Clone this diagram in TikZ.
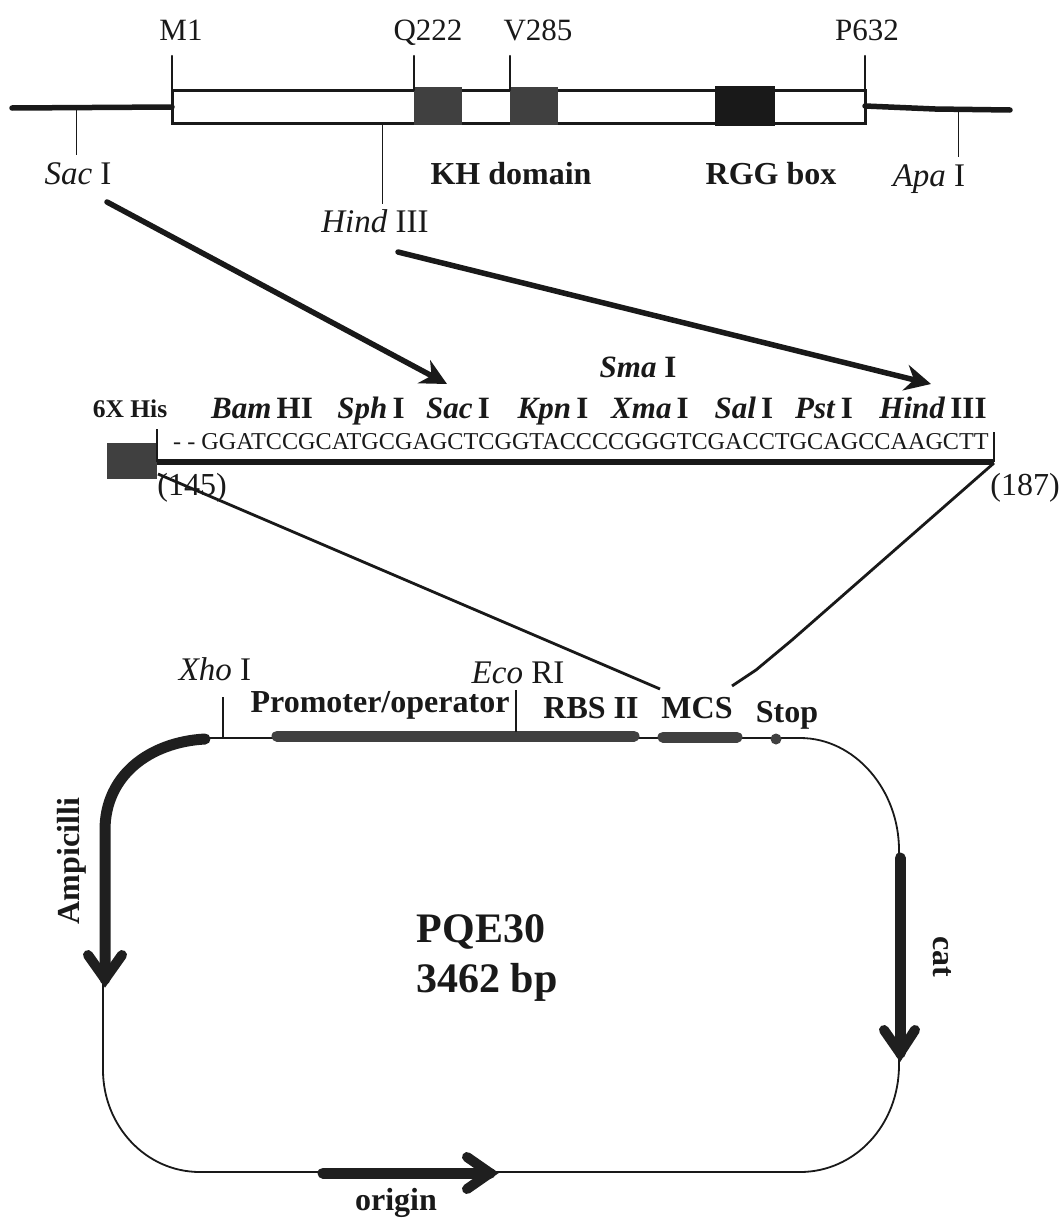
\documentclass[tikz,border=0pt]{standalone}
\usepackage{fontspec}
\setmainfont{Liberation Serif}
\usetikzlibrary{arrows.meta}
\definecolor{ink}{gray}{0.1}
\definecolor{dom}{gray}{0.25}
\tikzset{
 lab/.style={inner sep=0pt,anchor=base,text=ink,font=\fontsize{31}{31}\selectfont},
 ilab/.style={lab,font=\fontsize{33}{33}\selectfont},
 blab/.style={lab,font=\fontsize{32}{32}\selectfont\bfseries},
 enz/.style={lab,font=\fontsize{31}{31}\selectfont\bfseries},
 thin line/.style={draw=ink,line width=0.9pt},
 mid line/.style={draw=ink,line width=2.8pt},
 thick line/.style={draw=ink,line width=5.5pt},
 tickl/.style={draw=ink,line width=2.5pt},
 domain box/.style={fill=dom,draw=none,inner sep=0pt},
 feature/.style={draw=dom,line width=11pt,line cap=round},
 plasmid/.style={draw=ink,line width=1.8pt},
 shaft/.style={draw=ink!85!dom,line width=11pt,line cap=round},
 barbs/.style={draw=ink!85!dom,line width=10pt,line cap=round,line join=miter},
 insarrow/.style={draw=ink,line width=5.5pt,line cap=round,-{Stealth[length=26pt,width=26pt]}},
}
\begin{document}
\begin{tikzpicture}[x=1pt,y=-1pt]
\useasboundingbox (0,0) rectangle (1059,1218);
\fill[white] (0,0) rectangle (1059,1218);
% top construct
\coordinate (L0) at (12,108); \coordinate (L1) at (172,107);
\coordinate (R0) at (865,106); \coordinate (R1) at (1010,110);
\draw[thick line,line cap=round] (L0)--(L1);
\draw[thick line,line cap=round] (R0)--(935,109)--(R1);
\draw[draw=ink,line width=3pt] (172,90) rectangle (865,123);
\node[domain box,minimum width=48pt,minimum height=38pt] (d1) at (438,106) {};
\node[domain box,minimum width=48pt,minimum height=38pt] (d2) at (533.5,106) {};
\node[fill=ink,inner sep=0pt,minimum width=60pt,minimum height=40pt] (d3) at (745,106) {};
\node[lab] (m1) at (181,40) {M1};
\node[lab] (q222) at (428,40) {Q222};
\node[lab] (v285) at (538,40) {V285};
\node[lab] (p632) at (867,40) {P632};
\foreach \x/\n in {172/a,414/b,510/c,865/e}{
 \coordinate (t\n) at (\x,56); \coordinate (u\n) at (\x,90);
 \draw[tickl,line cap=round] (t\n)--(u\n);}
\coordinate (s0) at (76,110); \coordinate (s1) at (76,155);
\coordinate (h0) at (382,123); \coordinate (h1) at (382,204);
\coordinate (ap0) at (958,110); \coordinate (ap1) at (958,157);
\draw[thin line] (s0)--(s1); \draw[thin line] (h0)--(h1); \draw[thin line] (ap0)--(ap1);
\node[ilab] (sac) at (78,184) {\textit{Sac} I};
\node[blab] (kh) at (511,184) {KH domain};
\node[blab] (rgg) at (771,184) {RGG box};
\node[ilab] (apa) at (929,186) {\textit{Apa} I};
\node[ilab] (hind) at (375,232) {\textit{Hind} III};
% insert arrows
\coordinate (sacS) at (107,202); \coordinate (sacE) at (447,384);
\coordinate (hinS) at (398,252); \coordinate (hinE) at (931,384);
\draw[insarrow] (sacS)--(sacE);
\draw[insarrow] (hinS)--(hinE);
% MCS
\node[enz] (sma) at (638,377) {\textit{Sma} I};
\node[lab,font=\fontsize{25.5}{25}\selectfont\bfseries] (his) at (130,417) {6X His};
\foreach \x/\t/\r/\n in {262/Bam/HI/e1,371/Sph/I/e2,458/Sac/I/e3,553/Kpn/I/e4,650/Xma/I/e5,744/Sal/I/e6,824/Pst/I/e7,933/Hind/III/e8}{
 \node[enz] (\n) at (\x,418) {\textit{\t}\,\r};}
\node[domain box,minimum width=50pt,minimum height=36pt] (hisbox) at (132,461) {};
\coordinate (v0) at (157,429); \coordinate (v1) at (157,462);
\coordinate (w0) at (994,432); \coordinate (w1) at (994,462);
\draw[tickl] (v0)--(v1); \draw[tickl] (w0)--(w1);
\draw[draw=ink,line width=6pt] (v1)--(w1);
\node[lab,font=\fontsize{24.2}{24}\selectfont,anchor=base west] (seq) at (173,449) {- - GGATCCGCATGCGAGCTCGGTACCCCGGGTCGACCTGCAGCCAAGCTT};
\node[lab,font=\fontsize{32}{32}\selectfont] (n145) at (192,495) {(145)};
\node[lab,font=\fontsize{32}{32}\selectfont] (n187) at (1025,495) {(187)};
\coordinate (ll) at (158,474); \coordinate (lr) at (660,689);
\coordinate (rr) at (994,463); \coordinate (rl) at (732,686);
\draw[mid line] (ll)--(lr);
\draw[mid line] (rr)--(792,640)--(756,670)--(rl);
% plasmid
\node[ilab] (xho) at (215,680) {\textit{Xho} I};
\node[ilab] (eco) at (518,683) {\textit{Eco} RI};
\node[blab] (prom) at (380,712) {Promoter/operator};
\node[blab] (rbs) at (591,718) {RBS II};
\node[blab] (mcs) at (697,718) {MCS};
\node[blab] (stop) at (787,722) {Stop};
\coordinate (ampS) at (205,739); \coordinate (catS) at (900,858);
\coordinate (oriS) at (323,1173);
\coordinate (ampV) at (105,979); \coordinate (catV) at (900,1053); \coordinate (oriV) at (490,1173);
\draw[plasmid] (205,738)--(800,738) .. controls (855,738) and (899,790) .. (899,850) -- (899,1065) .. controls (899,1125) and (855,1172) .. (800,1172) -- (200,1172) .. controls (145,1172) and (103,1125) .. (103,1070) -- (103,970);
\draw[feature] (277,736)--(634,736);
\draw[feature] (663,737)--(737,737);
\fill[dom] (776,739) circle (5.5pt);
\coordinate (x0) at (223,697); \coordinate (x1) at (223,738);
\coordinate (c0) at (516,690); \coordinate (c1) at (516,732);
\draw[tickl] (x0)--(x1); \draw[tickl] (c0)--(c1);
% thick arrows
\draw[shaft] (ampS) .. controls (150,742) and (105,775) .. (105,830) -- (ampV);
\draw[barbs] (88,955)--(ampV)--(122,955);
\draw[shaft] (catS)--(catV);
\draw[barbs] (884,1030)--(catV)--(915,1030);
\draw[shaft] (oriS)--(oriV);
\draw[barbs] (467,1157)--(oriV)--(467,1189);
\node[blab,rotate=90] (amp) at (79,861) {Ampicilli};
\node[blab,rotate=-90] (cat) at (933,957) {cat};
\node[lab,font=\fontsize{32}{32}\selectfont\bfseries] (ori) at (396,1210) {origin};
\node[lab,font=\fontsize{42}{42}\selectfont\bfseries] (pq) at (481,942) {PQE30};
\node[lab,font=\fontsize{42}{42}\selectfont\bfseries] (bp) at (487,992) {3462 bp};
\end{tikzpicture}
\end{document}
